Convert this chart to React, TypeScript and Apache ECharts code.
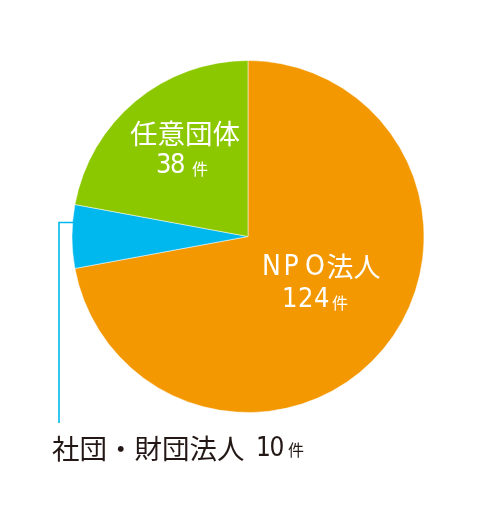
import React, { useEffect, useRef } from "react";
import * as echarts from "echarts";

const names = ["NPO法人", "社団・財団法人", "任意団体"];
const values = [124, 10, 38];
const unit = "件";
const colors = ["#F39800", "#00B8EE", "#8CC800"];

const CJK = '"Noto Sans CJK JP", "Noto Sans", sans-serif';
const NUM = '"Liberation Sans Narrow", "DejaVu Sans Condensed", Roboto, sans-serif';

function splitRich(s: string) {
  return s
    .split("")
    .map((ch) => (/[A-Za-z0-9]/.test(ch) ? `{a|${ch}}` : `{b|${ch}}`))
    .join("");
}

export default function App() {
  const ref = useRef<HTMLDivElement>(null);
  useEffect(() => {
    if (!ref.current) return;
    const chart = echarts.init(ref.current, undefined, { renderer: "svg" });

    const txt = (x: number, y: number, text: string, font: string, size: number, color: string, rich?: any) => ({
      type: "text",
      x,
      y,
      z: 100,
      style: {
        text,
        fill: color,
        fontFamily: font,
        fontSize: size,
        lineHeight: size,
        verticalAlign: "middle",
        align: "left",
        rich,
      },
    });
    const num = (x: number, y: number, v: number, size: number, pitch: number, color: string) =>
      txt(x, y, splitRich(String(v)), NUM, size, color, {
        a: { fontFamily: NUM, fontSize: size, width: pitch, color, lineHeight: size },
      });

    chart.setOption({
      animation: false,
      series: [
        {
          type: "pie",
          center: [248, 236.5],
          radius: 176,
          startAngle: 90,
          clockwise: true,
          label: { show: false },
          labelLine: { show: false },
          silent: true,
          itemStyle: { borderColor: "#fff", borderWidth: 0.5 },
          data: names.map((n, i) => ({ name: n, value: values[i], itemStyle: { color: colors[i] } })),
        },
      ],
      graphic: [
        {
          type: "polyline",
          z: 100,
          shape: { points: [[74, 222.5], [59, 222.5], [59, 423]] },
          style: { stroke: colors[1], lineWidth: 1.6, fill: null },
        },
        // NPO
        txt(262, 265, splitRich(names[0]), CJK, 27, "#fff", {
          a: { fontFamily: NUM, fontSize: 28, width: 21.5, color: "#fff", verticalAlign: "bottom", lineHeight: 28 },
          b: { fontFamily: CJK, fontSize: 27, color: "#fff", verticalAlign: "bottom", lineHeight: 28 },
        }),
        num(282, 297.5, values[0], 27, 16, "#fff"),
        txt(332, 301.5, unit, CJK, 16, "#fff"),
        // 任意団体
        txt(130, 131.5, names[2], CJK, 27.5, "#fff"),
        num(156, 163, values[2], 27, 14, "#fff"),
        txt(192, 167.5, unit, CJK, 16, "#fff"),
        // 社団・財団法人
        txt(52, 446.5, names[1], CJK, 27.5, "#231815"),
        num(256, 447, values[1], 26, 13.5, "#231815"),
        txt(288, 449, unit, CJK, 16, "#231815"),
      ],
    });
    return () => chart.dispose();
  }, []);
  return <div ref={ref} style={{ position: "fixed", left: 0, top: 0, width: 500, height: 517 }} />;
}
